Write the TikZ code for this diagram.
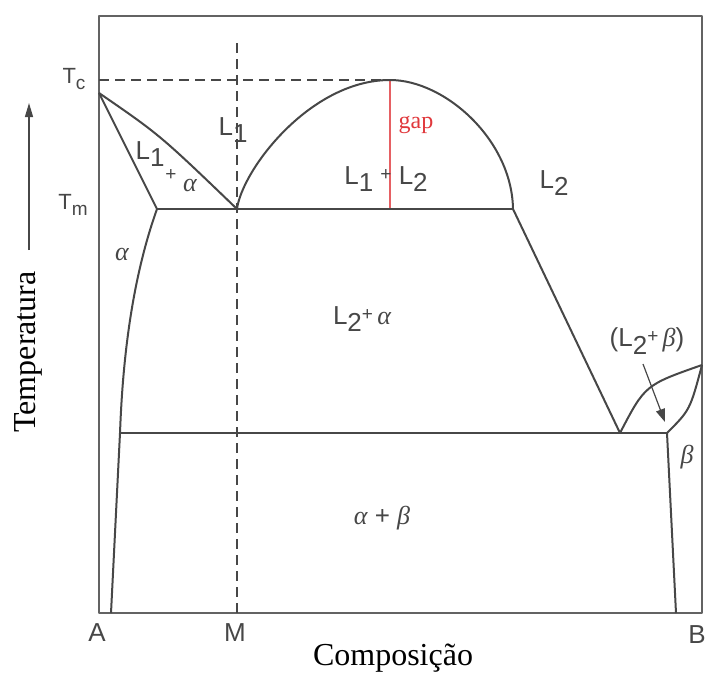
\documentclass[tikz,border=0pt]{standalone}
\usepackage{fontspec}
\setmainfont{Liberation Serif}
\newfontfamily\labfont{Liberation Sans}
\newfontfamily\greekfont{Liberation Serif}
\usetikzlibrary{arrows.meta}
\definecolor{ink}{HTML}{474747}
\definecolor{gapred}{HTML}{E0383C}
\newcommand{\lsub}[1]{\raisebox{-0.55ex}{#1}}
\newcommand{\galpha}{{\greekfont\itshape α}}
\newcommand{\gbeta}{{\greekfont\itshape β}}
\newcommand{\smplus}{\raisebox{0.3ex}{\fontsize{19}{21}\selectfont+}}
\begin{document}
\begin{tikzpicture}[x=1pt,y=-1pt,line join=round,
  phase/.style={draw=ink,line width=2pt},
  frameline/.style={draw=ink!85,line width=1.6pt},
  guide/.style={draw=ink,line width=2pt,dash pattern=on 10pt off 6pt},
  gapline/.style={draw=gapred!80,line width=1.2pt},
  lab/.style={text=ink,font=\labfont\fontsize{26}{29}\selectfont,inner sep=0pt},
  tlab/.style={text=ink,font=\labfont\fontsize{22}{25}\selectfont,inner sep=0pt},
  axtitle/.style={text=black,font=\fontsize{32}{36}\selectfont,inner sep=0pt},
  gaptext/.style={text=gapred,font=\fontsize{24}{27}\selectfont,inner sep=0pt}]
\useasboundingbox (0,0) rectangle (707,675);
% key points
\coordinate (TL) at (99,16);
\coordinate (TR) at (702,16);
\coordinate (BR) at (702,613);
\coordinate (BL) at (99,613);
\coordinate (Tcp) at (99,93);
\coordinate (Dash0) at (99,80);
\coordinate (Sa) at (157,209);
\coordinate (E1) at (237,209);
\coordinate (Dtop) at (390,80);
\coordinate (Gbot) at (390,209);
\coordinate (Dr) at (513,209);
\coordinate (Ea) at (120,433);
\coordinate (E2) at (620,433);
\coordinate (Sb) at (667,433);
\coordinate (Pb) at (702,365);
\coordinate (Abot) at (111,613);
\coordinate (Bbot) at (676,613);
\coordinate (Mtop) at (237,43);
\coordinate (Mbot) at (237,613);
\coordinate (ArrS) at (643,364);
\coordinate (ArrE) at (665,422);
\coordinate (TaS) at (29,250);
\coordinate (TaE) at (29,103);
% frame and guides
\draw[frameline] (TL) -- (TR) -- (BR) -- (BL) -- cycle;
\draw[guide] (Dash0) -- (Dtop);
\draw[guide] (Mtop) -- (Mbot);
\draw[gapline] (Dtop) -- (Gbot);
% phase boundaries
\draw[phase] (Tcp) .. controls (160,135) .. (E1);
\draw[phase] (Tcp) -- (Sa);
\draw[phase] (Sa) -- (Dr);
\draw[phase] (E1) .. controls (242,170) and (310,80) .. (Dtop)
  .. controls (445,80) and (512,140) .. (Dr);
\draw[phase] (Sa) .. controls (128,290) and (122,380) .. (Ea) -- (Abot);
\draw[phase] (Ea) -- (Sb);
\draw[phase] (Dr) -- (E2);
\draw[phase] (E2) .. controls (645,385) .. (Pb);
\draw[phase] (Pb) .. controls (690,410) .. (Sb);
\draw[phase] (Sb) -- (Bbot);
% arrows
\draw[draw=ink,line width=1.2pt,-{Triangle[length=13pt,width=9pt]}] (ArrS) -- (ArrE);
\draw[draw=ink,line width=1.3pt,-{Triangle[length=14pt,width=8pt]}] (TaS) -- (TaE);
% labels
\node[tlab] (tc) at (74,79) {T\lsub{\fontsize{19}{21}\selectfont c}};
\node[tlab] (tm) at (73,205) {T\lsub{\fontsize{19}{21}\selectfont m}};
\node[lab] (l1) at (233,130) {L\lsub{1}};
\node[lab] (l1a) at (150,154) {L\lsub{1}};
\node[lab] (pl1) at (171,177) {\smplus};
\node[lab] (al1) at (190,185) {\galpha};
\node[lab] (alpha) at (122,254) {\galpha};
\node[lab] (l1l2) at (386,179) {L\lsub{1} \smplus\ L\lsub{2}};
\node[gaptext] (gap) at (416,125) {gap};
\node[lab] (l2) at (554,183) {L\lsub{2}};
\node[lab] (l2a) at (362,319) {L\lsub{2}\smplus\,\galpha};
\node[lab] (l2b) at (647,341) {(L\lsub{2}\smplus\,\gbeta)};
\node[lab] (beta) at (687,457) {\gbeta};
\node[lab] (ab) at (382,518) {\galpha\ + \gbeta};
\node[lab] (A) at (97,633) {A};
\node[lab] (M) at (235,633) {M};
\node[lab] (B) at (697,635) {B};
\node[axtitle,rotate=90] (temp) at (28,352) {Temperatura};
\node[axtitle] (comp) at (393,658) {Composição};
\end{tikzpicture}
\end{document}
